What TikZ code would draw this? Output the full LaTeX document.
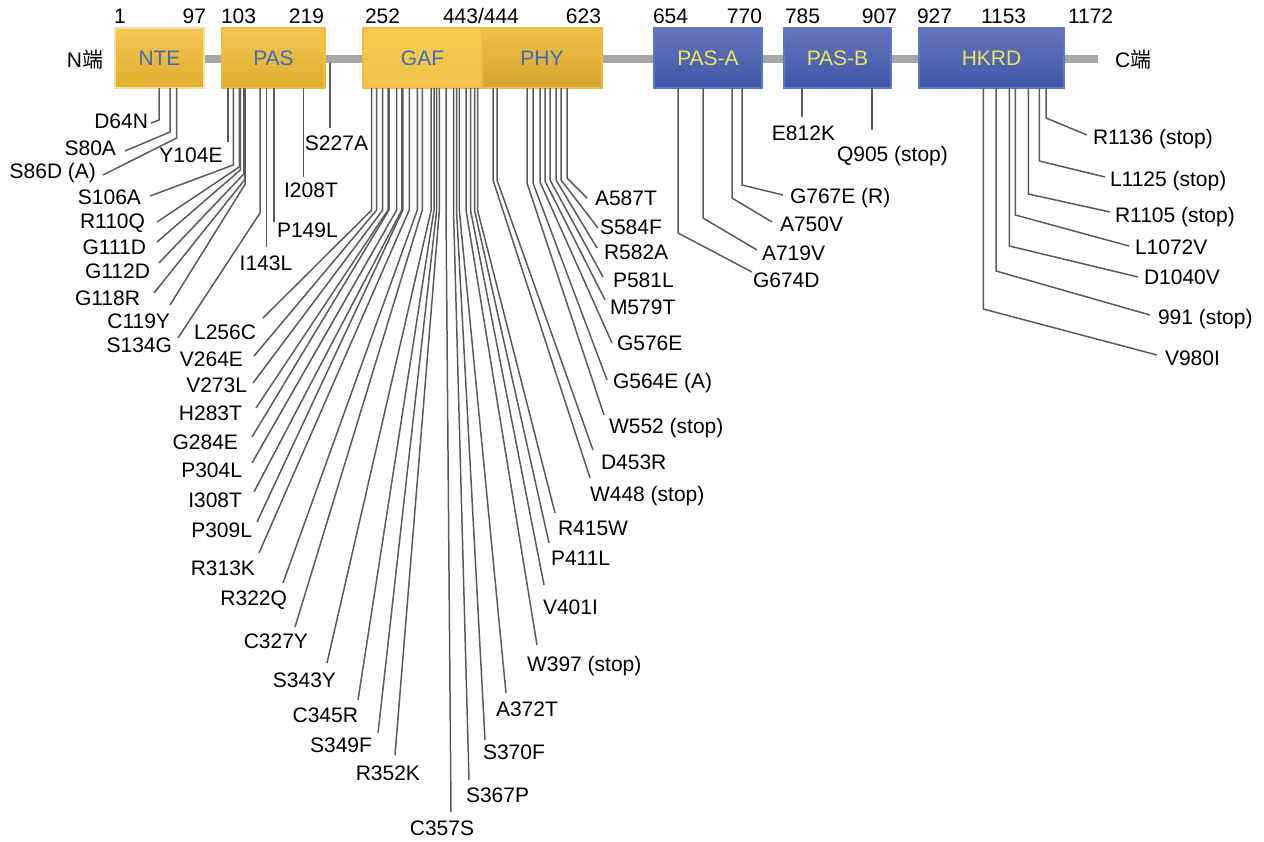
\documentclass[tikz,border=0pt]{standalone}
\usepackage{fontspec}
\setmainfont{Liberation Sans}
\newfontfamily\cjk{Noto Sans CJK SC}
\usetikzlibrary{shadings}
\definecolor{ytop}{HTML}{F3C652}
\definecolor{ybot}{HTML}{DFAE2E}
\definecolor{yborder}{HTML}{EBBD45}
\definecolor{btop}{HTML}{6674BC}
\definecolor{bbot}{HTML}{3D58A8}
\definecolor{bborder}{HTML}{5A78C8}
\definecolor{ytext}{HTML}{EDE55A}
\definecolor{btext}{HTML}{3C6BC0}
\definecolor{linegray}{HTML}{5A5A5A}
\definecolor{bbgray}{HTML}{A7A7AA}
\newcommand{\mut}[9]{%
  \coordinate (t#1) at (#2,88);
  \coordinate (e#1) at (#4,#5);
  \node[lbl,anchor=#8] (l#1) at (#6,#7) {#9};
  \draw[mline] (t#1) -- (#2,#3) -- (e#1);
}
\begin{document}
\begin{tikzpicture}[x=0.5pt,y=-0.5pt,
  font=\fontsize{10.5}{12}\selectfont,
  lbl/.style={inner sep=0pt, outer sep=0pt, text height=7.5pt, text depth=0pt},
  mline/.style={draw=linegray, line width=0.75pt, line join=miter},
  backbone/.style={draw=bbgray, line width=4pt},
  ybox/.style={draw=yborder, line width=0.7pt, top color=ytop, bottom color=ybot,
     text=btext, inner sep=0pt, outer sep=0pt, minimum height=30pt},
  bbox/.style={draw=bborder, line width=0.7pt, top color=btop, bottom color=bbot,
     text=ytext, inner sep=0pt, outer sep=0pt, minimum height=30pt}]
\useasboundingbox (0,0) rectangle (1264,841);

% backbone
\coordinate (bbL) at (204,59);
\coordinate (bbR) at (1098,59);
\draw[backbone] (bbL) -- (bbR);

% domains
\node[ybox, draw=yborder!50!white, minimum width=44.5pt] (NTE) at (159.5,58) {NTE};
\node[ybox, minimum width=51.5pt] (PAS) at (273.5,58) {PAS};
\node[ybox, top color=ytop!90!yellow, bottom color=ytop!85!ybot, minimum width=59.5pt] (GAF) at (422.5,58) {GAF};
\node[ybox, top color=ytop!80!ybot, bottom color=ybot!95!black, minimum width=60pt] (PHY) at (542,58) {PHY};
\node[bbox, minimum width=54pt] (PASA) at (708,58) {PAS-A};
\node[bbox, minimum width=53.5pt] (PASB) at (837.5,58) {PAS-B};
\node[bbox, minimum width=72.5pt] (HKRD) at (991.5,58) {HKRD};

\node[lbl, anchor=east] (Nend) at (103,60) {N{\cjk 端}};
\node[lbl, anchor=west] (Cend) at (1115,60) {C{\cjk 端}};

% residue numbers
\node[lbl, anchor=west] (n1) at (114,16) {1};
\node[lbl, anchor=east] (n97) at (206,16) {97};
\node[lbl, anchor=west] (n103) at (221,16) {103};
\node[lbl, anchor=east] (n219) at (324,16) {219};
\node[lbl, anchor=west] (n252) at (365,16) {252};
\node[lbl, anchor=west] (n443) at (443,16) {443/444};
\node[lbl, anchor=east] (n623) at (601,16) {623};
\node[lbl, anchor=west] (n654) at (653,16) {654};
\node[lbl, anchor=east] (n770) at (762,16) {770};
\node[lbl, anchor=west] (n785) at (785,16) {785};
\node[lbl, anchor=east] (n907) at (897,16) {907};
\node[lbl, anchor=west] (n927) at (917,16) {927};
\node[lbl, anchor=west] (n1153) at (981,16) {1153};
\node[lbl, anchor=west] (n1172) at (1068,16) {1172};

% NTE / PAS mutations
\mut{D64N}{159}{120}{151}{123}{148}{121}{east}{D64N}
\mut{S80A}{170}{132}{125}{151}{116}{148}{east}{S80A}
\mut{S86D}{176.7}{138}{103}{175}{96}{171}{east}{S86D (A)}
\mut{Y104E}{228}{142}{228}{142}{191}{155}{center}{Y104E}
\mut{S106A}{233.3}{165}{150}{196}{141}{197}{east}{S106A}
\mut{R110Q}{239.3}{167}{157}{222}{145}{221}{east}{R110Q}
\mut{G111D}{240.3}{170}{157}{242}{146}{247}{east}{G111D}
\mut{G112D}{243.8}{174}{159}{263}{150}{271}{east}{G112D}
\mut{G118R}{244.5}{180}{154}{293}{140}{298}{east}{G118R}
\mut{C119Y}{245.2}{184}{170}{305}{170}{321}{east}{C119Y}
\mut{S134G}{260}{213}{178}{338}{172}{345}{east}{S134G}
\mut{I143L}{266.7}{247}{266.7}{247}{266}{263}{center}{I143L}
\mut{P149L}{274}{222}{274}{222}{277}{230}{west}{P149L}
\mut{I208T}{303.3}{177}{303.3}{177}{311}{190}{center}{I208T}
\coordinate (tS227A) at (330,63);
\coordinate (eS227A) at (330,128);
\draw[mline] (tS227A) -- (eS227A);
\node[lbl] (lS227A) at (336.5,143) {S227A};

% GAF mutations (left)
\mut{L256C}{371.7}{210}{263}{318}{256}{332}{east}{L256C}
\mut{V264E}{376.7}{210}{254}{356}{243}{359}{east}{V264E}
\mut{V273L}{382.7}{210}{253}{383}{247}{385}{east}{V273L}
\mut{H283T}{388}{210}{256}{408}{242}{413}{east}{H283T}
\mut{G284E}{389}{210}{252}{437}{238}{442}{east}{G284E}
\mut{P304L}{396.7}{210}{252}{463}{242}{470}{east}{P304L}
\mut{I308T}{401.8}{210}{254}{492}{242}{500}{east}{I308T}
\mut{P309L}{402.8}{210}{257}{522}{252}{530}{east}{P309L}
\mut{R313K}{409.3}{210}{259}{553}{255}{568}{east}{R313K}
\mut{R322Q}{417.3}{210}{283}{583}{287}{598}{east}{R322Q}
\mut{C327Y}{422.3}{210}{295}{627}{308}{641}{east}{C327Y}
\mut{S343Y}{431.2}{210}{327}{663}{336}{680}{east}{S343Y}
\mut{C345R}{434}{210}{358}{700}{358}{715}{east}{C345R}
\mut{S349F}{436.7}{210}{378}{733}{372}{745}{east}{S349F}
\mut{R352K}{439.4}{210}{395}{755}{420}{773}{east}{R352K}
\mut{C357S}{446}{210}{451}{812}{442}{828}{center}{C357S}
% GAF mutations (right)
\mut{S367P}{453.5}{210}{469}{780}{466}{795}{west}{S367P}
\mut{S370F}{456.5}{210}{485}{740}{483}{752}{west}{S370F}
\mut{A372T}{459.3}{210}{506}{693}{496}{709}{west}{A372T}
\mut{W397}{466}{210}{537}{645}{527}{664}{west}{W397 (stop)}
\mut{V401I}{470.5}{210}{544}{585}{543}{607}{west}{V401I}
\mut{P411L}{474.5}{210}{549}{543}{551}{558}{west}{P411L}
\mut{R415W}{477.5}{210}{555}{513}{558}{528}{west}{R415W}
% PHY mutations
\mut{W448}{493}{180}{590}{478}{590}{494}{west}{W448 (stop)}
\mut{D453R}{497}{180}{593}{450}{601}{462}{west}{D453R}
\mut{W552}{527}{183}{604}{415}{609}{426}{west}{W552 (stop)}
\mut{G564E}{533}{183}{607}{380}{613}{381}{west}{G564E (A)}
\mut{G576E}{540}{182}{612}{343}{617}{343}{west}{G576E}
\mut{M579T}{545}{181}{605}{300}{610}{307}{west}{M579T}
\mut{P581L}{550}{180}{603}{277}{613}{280}{west}{P581L}
\mut{R582A}{556}{180}{597}{248}{604}{252}{west}{R582A}
\mut{S584F}{561}{180}{598}{228}{600}{227}{west}{S584F}
\mut{A587T}{567}{178}{587}{198}{595}{198}{west}{A587T}
% PAS-A
\mut{G674D}{678}{233}{752}{272}{753}{280}{west}{G674D}
\mut{A719V}{703}{218}{757}{250}{762}{253}{west}{A719V}
\mut{A750V}{732}{198}{772}{222}{780}{224}{west}{A750V}
\mut{G767E}{742}{185}{783}{195}{790}{196}{west}{G767E (R)}
% PAS-B
\mut{E812K}{802}{117}{802}{117}{803.5}{133}{center}{E812K}
\mut{Q905}{872}{130}{872}{130}{837}{154}{west}{Q905 (stop)}
% HKRD
\mut{R1136}{1046}{118}{1087}{135}{1093}{137}{west}{R1136 (stop)}
\mut{L1125}{1039.3}{161}{1105}{177}{1110}{179}{west}{L1125 (stop)}
\mut{R1105}{1028.3}{194}{1110}{212}{1115}{215}{west}{R1105 (stop)}
\mut{L1072V}{1015.3}{215}{1129}{246}{1135}{247}{west}{L1072V}
\mut{D1040V}{1009.3}{246}{1138}{277}{1144}{277}{west}{D1040V}
\mut{K991}{996}{271}{1150}{315}{1158}{317}{west}{991 (stop)}
\mut{V980I}{983.3}{309}{1157}{355}{1165}{358}{west}{V980I}
\end{tikzpicture}
\end{document}
